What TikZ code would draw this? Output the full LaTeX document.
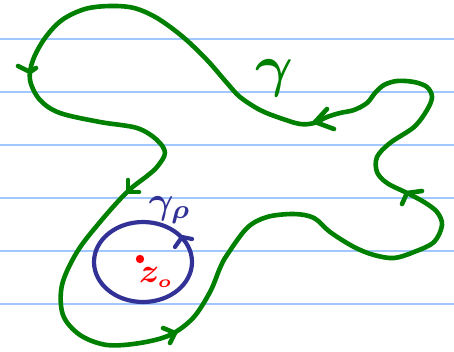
\documentclass[tikz,border=0pt]{standalone}
\usepackage{amsmath}
\begin{document}
\begin{tikzpicture}[x=1pt,y=-1pt,
  rule/.style={draw=ruleblue,line width=1.6pt},
  gcurve/.style={draw=pengreen,line width=4.6pt,line cap=round,line join=round},
  bcurve/.style={draw=penblue,line width=4.2pt,line cap=round,line join=round},
  lbl/.style={inner sep=0pt,outer sep=0pt}]
\definecolor{ruleblue}{RGB}{160,200,255}
\definecolor{pengreen}{RGB}{0,128,0}
\definecolor{penblue}{RGB}{50,50,150}
\definecolor{penred}{RGB}{255,0,0}
\useasboundingbox (0,0) rectangle (454,351);
\fill[white] (0,0) rectangle (454,351);
% ruled lines
\foreach \yy in {39,92,145,198,251,304} \draw[rule] (0,\yy) -- (454,\yy);
% big contour gamma
\draw[gcurve] plot[smooth cycle,tension=0.55] coordinates {
 (110,6) (85,9) (62,20) (45,38) (33,60) (30,80) (40,100) (60,113) (100,122)
 (137,128) (157,140) (165,153) (157,167) (147,176) (127,192) (100,222)
 (77,252) (62,285) (63,315) (80,335) (107,345) (140,343) (170,335)
 (193,318) (210,292) (220,268) (227,255) (247,228) (267,217) (294,214)
 (314,218) (330,232) (354,247) (374,255) (394,258) (414,252) (434,242)
 (442,225) (437,212) (424,202) (407,193) (387,183) (377,172) (377,157)
 (390,143) (414,127) (427,110) (432,97) (427,87) (414,82) (397,81)
 (384,85) (375,93) (367,103) (354,110) (340,113) (327,117) (314,123)
 (300,124) (280,118) (260,110) (240,97) (227,83) (207,60) (183,37)
 (157,18) (134,8)};
% arrowheads on gamma
\draw[gcurve] (18,66) -- (30,72) -- (36,68);
\draw[gcurve] (327,109) -- (315,122) -- (334,129);
\draw[gcurve] (128,180) -- (128,192) -- (139,192);
\draw[gcurve] (163,328) -- (175,333) -- (170,343);
\draw[gcurve] (402,204) -- (407,193) -- (422,191);
% small circle gamma_rho
\draw[bcurve] (143,262) ellipse [x radius=49,y radius=40];
\draw[bcurve] (175,247) -- (182,237) -- (192,239);
% labels
\node[lbl,text=pengreen,scale=5.8] (g) at (274,78) {$\boldsymbol{\gamma}$};
\node[lbl,text=penblue,scale=3.8] (gr) at (170,210) {$\boldsymbol{\gamma_{\rho}}$};
\fill[penred] (140,259) circle (4.2);
\node[lbl,text=penred,scale=3.4] (z0) at (156,277) {$\boldsymbol{z_{\scriptscriptstyle o}}$};
\end{tikzpicture}
\end{document}
